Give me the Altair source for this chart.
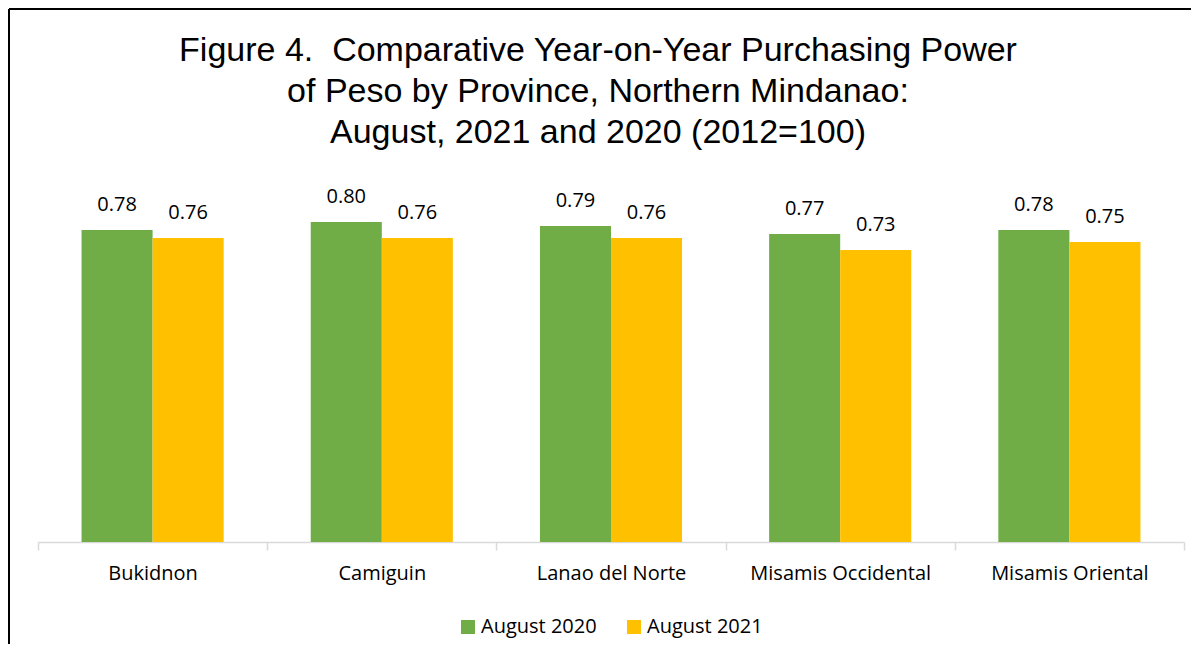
import altair as alt
import pandas as pd

provinces = ["Bukidnon", "Camiguin", "Lanao del Norte", "Misamis Occidental", "Misamis Oriental"]
aug2020 = [0.78, 0.80, 0.79, 0.77, 0.78]
aug2021 = [0.76, 0.76, 0.76, 0.73, 0.75]
series = ["August 2020", "August 2021"]
colors = ["#70AD47", "#FFC000"]
title_lines = [
    "Figure 4.\u00a0 Comparative Year-on-Year Purchasing Power",
    "of Peso by Province, Northern Mindanao:",
    "August, 2021 and 2020 (2012=100)",
]

rows = []
for p, a, b in zip(provinces, aug2020, aug2021):
    rows.append({"Province": p, "Series": series[0], "Value": a})
    rows.append({"Province": p, "Series": series[1], "Value": b})
df = pd.DataFrame(rows)

W, H = 1146, 380
LABEL_FONT = "Open Sans"
FS = 20

x = alt.X(
    "Province:N",
    sort=provinces,
    scale=alt.Scale(paddingInner=0, paddingOuter=0),
    axis=alt.Axis(
        title=None, labelAngle=0, tickBand="extent",
        domainColor="#D9D9D9", tickColor="#D9D9D9", tickSize=8,
        domainWidth=1.5, tickWidth=1.5,
        labelFontSize=FS, labelFont=LABEL_FONT, labelColor="#000000",
        labelPadding=13, labelLimit=0,
    ),
)
xo = alt.XOffset("Series:N", sort=series, scale=alt.Scale(paddingOuter=0.6127, paddingInner=0))
y = alt.Y("Value:Q", scale=alt.Scale(domain=[0, 0.95], nice=False), axis=None)

base = alt.Chart(df)

bars = base.mark_bar(strokeWidth=0).encode(
    x=x, xOffset=xo, y=y,
    color=alt.Color(
        "Series:N", sort=series,
        scale=alt.Scale(domain=series, range=colors),
        legend=alt.Legend(
            title=None, orient="none", legendX=420, legendY=455,
            direction="horizontal", symbolType="square", symbolSize=196,
            symbolStrokeWidth=0, labelFontSize=FS, labelFont=LABEL_FONT,
            labelColor="#000000", columnPadding=27, labelOffset=3, padding=0,
        ),
    ),
)

labels = base.mark_text(
    baseline="alphabetic", dy=-19, fontSize=FS, font=LABEL_FONT, color="#000000"
).encode(x=x, xOffset=xo, y=y, text=alt.Text("Value:Q", format=".2f"))

one = alt.Chart(pd.DataFrame({"a": [0]}))
frame_v = one.mark_rule(color="black", strokeWidth=2).encode(
    x=alt.value(-29), y=alt.value(-153), y2=alt.value(482)
)
frame_h = one.mark_rule(color="black", strokeWidth=2).encode(
    x=alt.value(-29), x2=alt.value(1153), y=alt.value(-153)
)

chart = alt.layer(bars, labels, frame_v, frame_h).properties(
    width=W, height=H, padding=0,
    title=alt.TitleParams(
        text=title_lines, fontSize=34, font="Liberation Sans", fontWeight="normal",
        color="#000000", lineHeight=41, offset=-142, dx=-13, anchor="middle",
    ),
).configure_view(stroke=None)

chart.save("out.html", embed_options={"renderer": "svg", "actions": False})
